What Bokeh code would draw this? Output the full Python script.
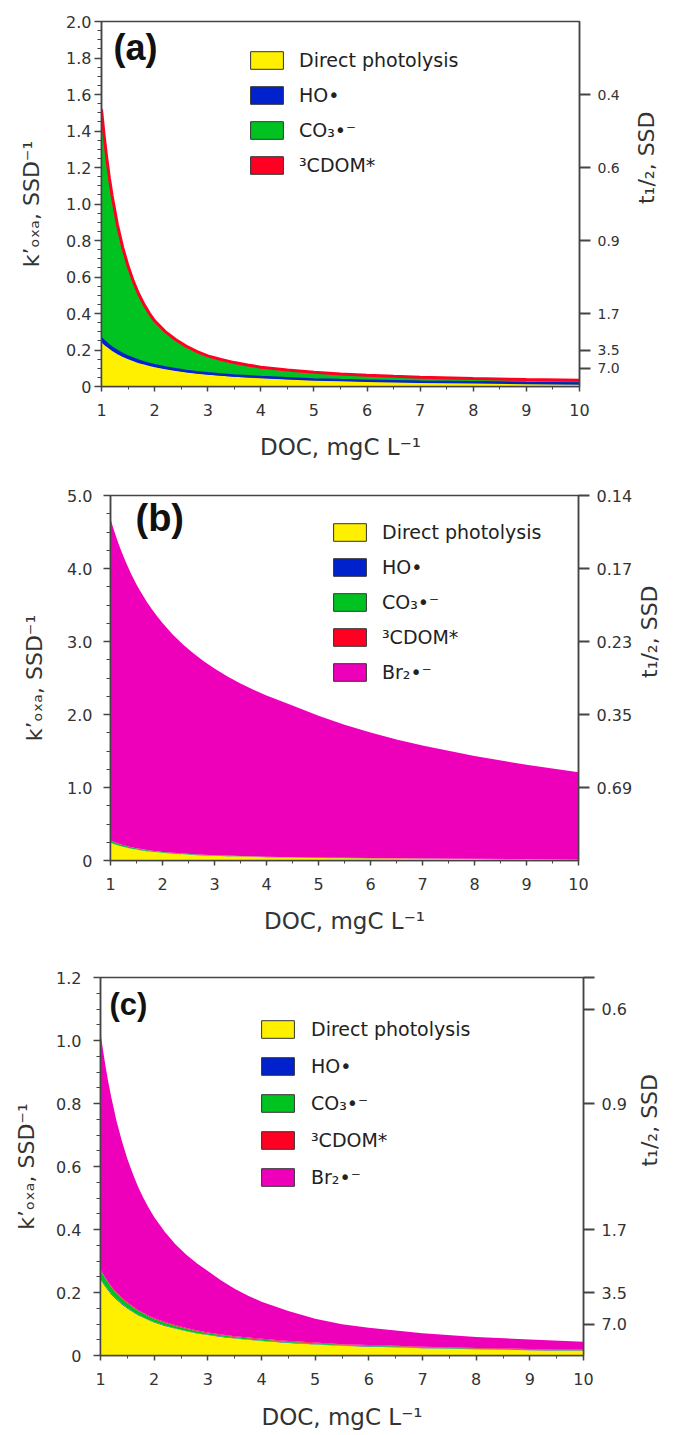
import numpy as np
from math import pi
from bokeh.plotting import figure
from bokeh.layouts import column
from bokeh.models import (Range1d, LinearAxis, FixedTicker, SingleIntervalTicker,
                          Label, Legend, LegendItem, PrintfTickFormatter)
from bokeh.embed import file_html
from bokeh.resources import INLINE

# ---------------- data ----------------
DOC = [1, 1.05, 1.1, 1.15, 1.2, 1.3, 1.4, 1.5, 1.6, 1.7, 1.8, 1.9, 2, 2.2, 2.4, 2.6, 2.8,
       3, 3.25, 3.5, 3.75, 4, 4.5, 5, 5.5, 6, 6.5, 7, 8, 9, 10]

DIRECT = [0.242, 0.228, 0.216, 0.205, 0.194, 0.177, 0.162, 0.149, 0.138, 0.128, 0.120,
          0.112, 0.105, 0.094, 0.085, 0.077, 0.070, 0.065, 0.059, 0.054, 0.050, 0.046,
          0.040, 0.035, 0.031, 0.028, 0.026, 0.023, 0.020, 0.017, 0.015]

# panel (a)
HO_A = [0.022, 0.021, 0.020, 0.019, 0.018, 0.017, 0.016, 0.015, 0.014, 0.013, 0.012,
        0.012, 0.011, 0.010, 0.009, 0.008, 0.008, 0.007, 0.007, 0.006, 0.006, 0.006,
        0.005, 0.004, 0.004, 0.004, 0.003, 0.003, 0.003, 0.002, 0.002]
CO3_A = [1.246, 1.116, 1.003, 0.906, 0.824, 0.683, 0.574, 0.487, 0.416, 0.358, 0.310,
         0.269, 0.236, 0.189, 0.155, 0.128, 0.106, 0.089, 0.075, 0.065, 0.056, 0.048,
         0.039, 0.034, 0.029, 0.025, 0.022, 0.020, 0.017, 0.015, 0.013]
CDOM_A = [0.010, 0.010, 0.010, 0.010, 0.009, 0.009, 0.009, 0.009, 0.008, 0.008, 0.008,
          0.008, 0.008, 0.008, 0.007, 0.007, 0.007, 0.007, 0.007, 0.006, 0.006, 0.006,
          0.006, 0.005, 0.005, 0.005, 0.005, 0.005, 0.004, 0.004, 0.004]

# panels (b) and (c)
HO_BC = [0.002, 0.002, 0.002, 0.002, 0.002, 0.002, 0.002, 0.002, 0.002, 0.001, 0.001,
         0.001, 0.001, 0.001, 0.001, 0.001, 0.001, 0.001, 0.001, 0.001, 0.001, 0.001,
         0.001, 0.001, 0.001, 0.001, 0.001, 0.001, 0.001, 0.001, 0.001]
CO3_BC = [0.028, 0.026, 0.024, 0.023, 0.021, 0.019, 0.017, 0.015, 0.014, 0.013, 0.012,
          0.011, 0.010, 0.009, 0.008, 0.007, 0.006, 0.005, 0.005, 0.004, 0.004, 0.004,
          0.003, 0.003, 0.002, 0.002, 0.002, 0.002, 0.001, 0.001, 0.001]
CDOM_BC = [0.002, 0.002, 0.002, 0.002, 0.002, 0.002, 0.002, 0.002, 0.002, 0.002, 0.002,
           0.002, 0.002, 0.002, 0.002, 0.002, 0.002, 0.002, 0.002, 0.002, 0.002, 0.002,
           0.002, 0.002, 0.002, 0.002, 0.002, 0.002, 0.002, 0.002, 0.002]
BR2_B = [4.406, 4.304, 4.208, 4.117, 4.034, 3.878, 3.739, 3.614, 3.501, 3.398, 3.302,
         3.215, 3.135, 2.988, 2.859, 2.747, 2.647, 2.556, 2.454, 2.364, 2.281, 2.207,
         2.078, 1.942, 1.825, 1.721, 1.628, 1.547, 1.406, 1.289, 1.191]
BR2_C = [0.751, 0.708, 0.668, 0.632, 0.602, 0.544, 0.497, 0.457, 0.422, 0.392, 0.365,
         0.342, 0.322, 0.286, 0.256, 0.233, 0.213, 0.195, 0.171, 0.151, 0.133, 0.118,
         0.095, 0.076, 0.063, 0.055, 0.048, 0.043, 0.035, 0.030, 0.025]

LEGEND_LABELS = ["Direct photolysis", "HO\u2022", "CO\u2083\u2022\u207b", "\u00b3CDOM*",
                 "Br\u2082\u2022\u207b"]
COLORS = ["#FFF000", "#0022CC", "#00C322", "#FF0022", "#EE00BB"]

LEFT_TICKS_A = [0, 0.2, 0.4, 0.6, 0.8, 1.0, 1.2, 1.4, 1.6, 1.8, 2.0]
LEFT_TICKS_B = [0, 1.0, 2.0, 3.0, 4.0, 5.0]
LEFT_TICKS_C = [0, 0.2, 0.4, 0.6, 0.8, 1.0, 1.2]

RIGHT_K_A = [1.6, 1.2, 0.8, 0.4, 0.2, 0.1]
RIGHT_T_A = ["0.4", "0.6", "0.9", "1.7", "3.5", "7.0"]
RIGHT_K_B = [5.0, 4.0, 3.0, 2.0, 1.0]
RIGHT_T_B = ["0.14", "0.17", "0.23", "0.35", "0.69"]
RIGHT_K_C = [1.2, 1.1, 0.8, 0.4, 0.2, 0.1]
RIGHT_T_C = ["", "0.6", "0.9", "1.7", "3.5", "7.0"]

Y_LABEL = "k\u2019\u2092\u2093\u2090, SSD\u207b\u00b9"
R_LABEL = "t\u2081/\u2082, SSD"
X_LABEL = "DOC, mgC L\u207b\u00b9"

TXT = "#333333"
AX = "#444444"
FONT = "DejaVu Sans"
W = 677


def make_panel(cfg):
    fw, fh = cfg["fw"], cfg["fh"]
    p = figure(width=W, height=cfg["h"], x_range=Range1d(1, 10),
               y_range=Range1d(0, cfg["ymax"]), output_backend="svg",
               toolbar_location=None, min_border_left=cfg["bl"],
               min_border_right=W - cfg["bl"] - fw, min_border_top=cfg["bt"],
               min_border_bottom=cfg["h"] - cfg["bt"] - fh)
    try:
        p.frame_align = False
    except Exception:
        pass
    p.xgrid.visible = False
    p.ygrid.visible = False
    p.outline_line_color = AX
    p.outline_line_width = 1.5

    # stacked areas
    base = np.zeros(len(DOC))
    tops = []
    for comp, col in zip(cfg["comps"], COLORS):
        top = base + np.asarray(comp)
        p.varea(x=DOC, y1=base, y2=top, fill_color=col)
        tops.append(top)
        base = top
    if cfg["lines"]:
        p.line(DOC, tops[1], line_color=COLORS[1], line_width=2.5)
        p.line(DOC, tops[3], line_color=COLORS[3], line_width=3)

    # axes
    xa = p.xaxis[0]
    xa.ticker = SingleIntervalTicker(interval=1, num_minor_ticks=2)
    ya = p.yaxis[0]
    major = cfg["lt"]
    step = (major[1] - major[0]) / 4.0
    minor = [m + step * j for m in major[:-1] for j in (1, 2, 3)]
    ya.ticker = FixedTicker(ticks=major, minor_ticks=minor)
    ya.formatter = PrintfTickFormatter(format="%.1f")
    ya.major_label_overrides = {0: "0"}
    for ax in (xa, ya):
        ax.axis_line_color = AX
        ax.axis_line_width = 1.5
        ax.major_tick_line_color = AX
        ax.minor_tick_line_color = AX
        ax.major_tick_line_width = 1.5
        ax.major_tick_in = 0
        ax.minor_tick_in = 0
        ax.major_label_text_font = FONT
        ax.major_label_text_font_size = "16px"
        ax.major_label_text_color = TXT
        ax.axis_label_text_font = FONT
        ax.axis_label_text_font_style = "normal"
        ax.axis_label_text_color = TXT
    xa.major_tick_out = 5
    xa.minor_tick_out = 3
    xa.major_label_standoff = 12
    xa.axis_label = X_LABEL
    xa.axis_label_text_font_size = "23px"
    xa.axis_label_standoff = cfg["xls"]
    ya.major_tick_out = 7
    ya.minor_tick_out = 4
    ya.major_label_standoff = cfg["ystand"]
    ya.axis_label = Y_LABEL
    ya.axis_label_text_font_size = "22px"
    ya.axis_label_standoff = cfg["yls"]

    p.extra_y_ranges = {"t": Range1d(0, cfg["ymax"])}
    ra = LinearAxis(y_range_name="t",
                    ticker=FixedTicker(ticks=cfg["rk"], minor_ticks=[]),
                    major_label_overrides=dict(zip(cfg["rk"], cfg["rt"])),
                    axis_line_color=AX, axis_line_width=1.5,
                    major_tick_line_color=AX, major_tick_line_width=2,
                    major_tick_in=0, major_tick_out=11, minor_tick_out=0,
                    major_label_standoff=7, major_label_text_font=FONT,
                    major_label_text_font_size=f"{cfg['rsize']}px",
                    major_label_text_color=TXT,
                    axis_label=R_LABEL, axis_label_text_font=FONT,
                    axis_label_text_font_size="22px", axis_label_text_font_style="normal",
                    axis_label_text_color=TXT, axis_label_standoff=cfg["rls"])
    try:
        ra.axis_label_orientation = pi / 2
    except Exception:
        pass
    p.add_layout(ra, "right")

    # legend (NaN patches supply outlined swatches, nothing is drawn in the plot)
    items = []
    for name, col, _ in zip(LEGEND_LABELS, COLORS, cfg["comps"]):
        r = p.patch(x=[np.nan], y=[np.nan], fill_color=col, line_color="#333333",
                    line_width=1)
        items.append(LegendItem(label=name, renderers=[r]))
    leg = Legend(items=items, location=cfg["legloc"], padding=0, margin=0,
                 spacing=cfg["legsp"], glyph_width=41, glyph_height=22, label_height=22,
                 label_standoff=cfg["legstd"], label_text_font=FONT,
                 label_text_font_size="19px", label_text_color="#222222",
                 background_fill_alpha=0, border_line_alpha=0)
    p.add_layout(leg)

    # panel tag
    p.add_layout(Label(x=cfg["tag"][0], y=fh - cfg["tag"][1], x_units="screen",
                       y_units="screen", text=cfg["name"], text_font="Liberation Sans",
                       text_font_style="bold", text_font_size=f"{cfg['tagsize']}px",
                       text_color="#111111", text_baseline="top"))
    return p


cfg_a = dict(name="(a)", h=468, bl=101, bt=21, fw=478, fh=365, ymax=2.0, lt=LEFT_TICKS_A,
             comps=[DIRECT, HO_A, CO3_A, CDOM_A], lines=True,
             rk=RIGHT_K_A, rt=RIGHT_T_A, rsize=14, ystand=3, yls=19, rls=24, xls=15,
             legloc=(145, 210), legsp=13, legstd=12, tag=(12, 5), tagsize=36)
cfg_b = dict(name="(b)", h=482, bl=110, bt=27, fw=474, fh=365, ymax=5.0, lt=LEFT_TICKS_B,
             comps=[DIRECT, HO_BC, CO3_BC, CDOM_BC, BR2_B], lines=False,
             rk=RIGHT_K_B, rt=RIGHT_T_B, rsize=16, ystand=11, yls=17, rls=14, xls=15,
             legloc=(219, 177), legsp=13, legstd=12, tag=(25, 1), tagsize=38)
cfg_c = dict(name="(c)", h=483, bl=100, bt=27, fw=483, fh=378, ymax=1.2, lt=LEFT_TICKS_C,
             comps=[DIRECT, HO_BC, CO3_BC, CDOM_BC, BR2_C], lines=False,
             rk=RIGHT_K_C, rt=RIGHT_T_C, rsize=16, ystand=12, yls=14, rls=20, xls=16,
             legloc=(157, 167), legsp=15, legstd=13, tag=(9, 9), tagsize=31)

layout = column(make_panel(cfg_a), make_panel(cfg_b), make_panel(cfg_c))
open("out.html", "w").write(file_html(layout, INLINE))
